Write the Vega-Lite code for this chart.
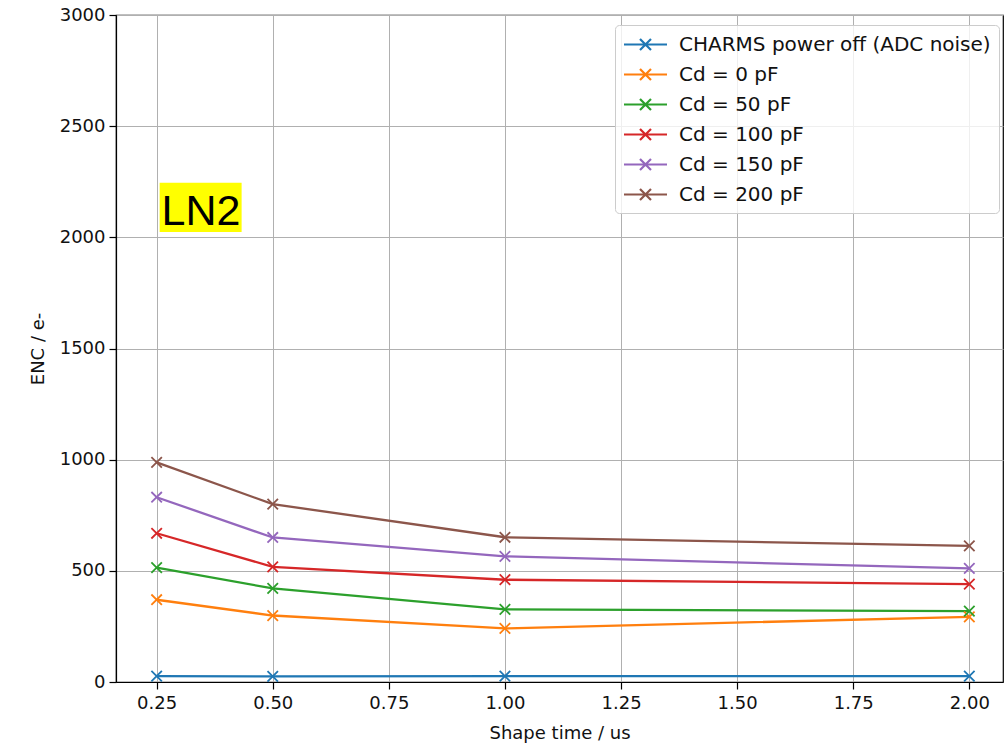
{
  "$schema": "https://vega.github.io/schema/vega-lite/v6.json",
  "width": 887,
  "height": 667,
  "autosize": {"type": "none"},
  "padding": {"left": 116, "top": 15, "right": 1, "bottom": 62},
  "background": "white",
  "config": {
    "view": {"stroke": "black", "strokeWidth": 1.2},
    "font": "DejaVu Sans",
    "axis": {
      "domainColor": "black",
      "domainWidth": 1.2,
      "tickColor": "black",
      "tickWidth": 1.2,
      "tickSize": 7,
      "labelFont": "DejaVu Sans",
      "labelFontSize": 18,
      "labelColor": "#111111",
      "titleFont": "DejaVu Sans",
      "titleFontSize": 18,
      "titleFontWeight": "normal",
      "titleColor": "#111111",
      "gridColor": "#b0b0b0",
      "gridWidth": 1
    },
    "legend": {
      "labelFont": "DejaVu Sans",
      "labelFontSize": 20,
      "labelColor": "#111111",
      "labelLimit": 0,
      "symbolType": "M-2.15,0L2.15,0M-0.55,-0.55L0.55,0.55M-0.55,0.55L0.55,-0.55",
      "symbolSize": 400,
      "symbolStrokeWidth": 2.2,
      "symbolFillColor": "transparent",
      "symbolOffset": 11,
      "labelOffset": 22,
      "rowPadding": 8,
      "padding": 8,
      "fillColor": "rgba(255,255,255,0.8)",
      "strokeColor": "#cccccc",
      "cornerRadius": 4
    }
  },
  "datasets": {
    "enc": [
      {"series": "CHARMS power off (ADC noise)", "t": 0.25, "enc": 26},
      {"series": "CHARMS power off (ADC noise)", "t": 0.5, "enc": 25},
      {"series": "CHARMS power off (ADC noise)", "t": 1.0, "enc": 26},
      {"series": "CHARMS power off (ADC noise)", "t": 2.0, "enc": 26},
      {"series": "Cd = 0 pF", "t": 0.25, "enc": 370},
      {"series": "Cd = 0 pF", "t": 0.5, "enc": 299},
      {"series": "Cd = 0 pF", "t": 1.0, "enc": 241},
      {"series": "Cd = 0 pF", "t": 2.0, "enc": 293},
      {"series": "Cd = 50 pF", "t": 0.25, "enc": 514},
      {"series": "Cd = 50 pF", "t": 0.5, "enc": 421},
      {"series": "Cd = 50 pF", "t": 1.0, "enc": 327},
      {"series": "Cd = 50 pF", "t": 2.0, "enc": 319},
      {"series": "Cd = 100 pF", "t": 0.25, "enc": 669},
      {"series": "Cd = 100 pF", "t": 0.5, "enc": 518},
      {"series": "Cd = 100 pF", "t": 1.0, "enc": 460},
      {"series": "Cd = 100 pF", "t": 2.0, "enc": 440},
      {"series": "Cd = 150 pF", "t": 0.25, "enc": 831},
      {"series": "Cd = 150 pF", "t": 0.5, "enc": 650},
      {"series": "Cd = 150 pF", "t": 1.0, "enc": 565},
      {"series": "Cd = 150 pF", "t": 2.0, "enc": 511},
      {"series": "Cd = 200 pF", "t": 0.25, "enc": 988},
      {"series": "Cd = 200 pF", "t": 0.5, "enc": 800},
      {"series": "Cd = 200 pF", "t": 1.0, "enc": 651},
      {"series": "Cd = 200 pF", "t": 2.0, "enc": 612}
    ],
    "ann": [
      {"t": 0.2565, "t2": 0.433, "enc": 2024, "enc2": 2245, "tx": 0.2605, "ty": 2056, "label": "LN2"}
    ]
  },
  "layer": [
    {
      "data": {"name": "ann"},
      "mark": {"type": "rect", "fill": "#ffff00"},
      "encoding": {
        "x": {"field": "t", "type": "quantitative", "title": "Shape time / us"},
        "x2": {"field": "t2"},
        "y": {"field": "enc", "type": "quantitative", "title": "ENC / e-"},
        "y2": {"field": "enc2"}
      }
    },
    {
      "data": {"name": "ann"},
      "mark": {"type": "text", "font": "Liberation Sans", "fontSize": 43, "align": "left", "baseline": "alphabetic", "color": "black"},
      "encoding": {
        "x": {"field": "tx", "type": "quantitative", "title": "Shape time / us"},
        "y": {"field": "ty", "type": "quantitative", "title": "ENC / e-"},
        "text": {"field": "label"}
      }
    },
    {
      "data": {"name": "enc"},
      "mark": {"type": "line", "strokeWidth": 2.3},
      "encoding": {
        "x": {
          "field": "t", "type": "quantitative", "title": "Shape time / us",
          "scale": {"domain": [0.1625, 2.0725], "nice": false, "zero": false},
          "axis": {"values": [0.25, 0.5, 0.75, 1.0, 1.25, 1.5, 1.75, 2.0], "format": ".2f", "labelPadding": 5, "titlePadding": 12, "labelFlush": false}
        },
        "y": {
          "field": "enc", "type": "quantitative", "title": "ENC / e-",
          "scale": {"domain": [0, 3000], "nice": false},
          "axis": {"values": [0, 500, 1000, 1500, 2000, 2500, 3000], "format": "d", "labelPadding": 4, "titlePadding": 12, "labelFlush": false}
        },
        "color": {
          "field": "series", "type": "nominal",
          "scale": {
            "domain": ["CHARMS power off (ADC noise)", "Cd = 0 pF", "Cd = 50 pF", "Cd = 100 pF", "Cd = 150 pF", "Cd = 200 pF"],
            "range": ["#1f77b4", "#ff7f0e", "#2ca02c", "#d62728", "#9467bd", "#8c564b"]
          },
          "legend": {"title": null, "orient": "none", "legendX": 499, "legendY": 10}
        }
      }
    },
    {
      "data": {"name": "enc"},
      "mark": {"type": "point", "shape": "M-1,-1L1,1M-1,1L1,-1", "filled": false, "size": 110, "strokeWidth": 1.8, "opacity": 1},
      "encoding": {
        "x": {"field": "t", "type": "quantitative", "title": "Shape time / us"},
        "y": {"field": "enc", "type": "quantitative", "title": "ENC / e-"},
        "color": {"field": "series", "type": "nominal"}
      }
    }
  ]
}
